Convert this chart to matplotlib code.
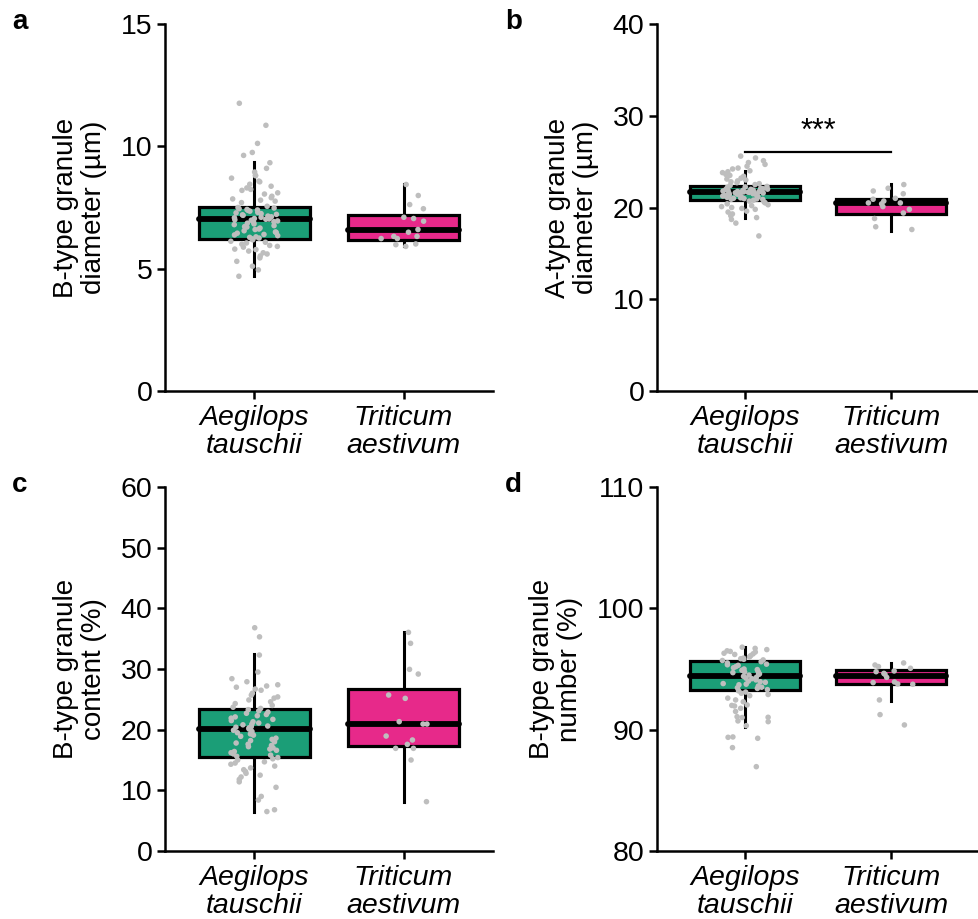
import numpy as np
import matplotlib.pyplot as plt

plt.rcParams['font.family'] = ['Liberation Sans', 'DejaVu Sans']

groups = ['Aegilops\ntauschii', 'Triticum\naestivum']
colors = ['#1B9E77', '#E7298A']

# panel a: B-type granule diameter (um)
a_aeg = [11.76, 10.86, 10.12, 9.75, 9.63, 9.33, 9.1, 8.95, 8.81, 8.8, 8.7, 8.58, 8.55,
         8.45, 8.37, 8.3, 8.24, 8.2, 8.1, 8.05, 7.96, 7.9, 7.85, 7.8, 7.76, 7.7,
         7.55, 7.5, 7.48, 7.45, 7.42, 7.4, 7.38, 7.35, 7.3, 7.28, 7.25, 7.22, 7.2,
         7.18, 7.15, 7.12, 7.1, 7.08, 7.05, 7.03, 7.02, 7.0,
         6.98, 6.95, 6.92, 6.9, 6.86, 6.83, 6.8, 6.76, 6.72, 6.7, 6.66, 6.62, 6.6,
         6.55, 6.5, 6.48, 6.45, 6.4, 6.38, 6.35, 6.3, 6.28, 6.25, 6.22,
         6.18, 6.12, 6.08, 6.05, 6.0, 5.95, 5.91, 5.88, 5.8, 5.78, 5.72, 5.65, 5.6,
         5.52, 5.44, 5.3, 5.1, 4.95, 4.69]
a_tri = [8.44, 7.99, 7.62, 7.45, 7.10, 7.05, 6.94, 6.6, 6.49, 6.32, 6.32, 6.23, 6.23,
         6.01, 5.98, 5.91]
# box stats: whislo, q1, med, q3, whishi
a_box = [(4.71, 6.23, 7.01, 7.53, 9.36), (5.91, 6.19, 6.56, 7.21, 8.47)]

# panel b: A-type granule diameter (um)
b_aeg = [25.6, 25.4, 25.1, 24.9, 24.7, 24.5, 24.3, 24.2, 24.0, 23.9, 23.8, 23.6, 23.5,
         23.4, 23.2, 23.1, 23.0, 22.9, 22.8, 22.7, 22.6, 22.5, 22.4,
         22.3, 22.25, 22.2, 22.15, 22.1, 22.05, 22.0, 21.98, 21.95, 21.9, 21.88, 21.85,
         21.8, 21.78, 21.75, 21.72, 21.7, 21.68, 21.67, 21.66,
         21.65, 21.6, 21.58, 21.55, 21.5, 21.45, 21.42, 21.4, 21.35, 21.3, 21.28, 21.25,
         21.2, 21.15, 21.1, 21.05, 21.0, 20.97, 20.93, 20.9, 20.88,
         20.8, 20.7, 20.6, 20.5, 20.4, 20.3, 20.2, 20.1, 20.0, 19.9, 19.8, 19.6, 19.5,
         19.3, 19.1, 18.9, 18.7, 18.3, 16.9]
b_tri = [22.5, 22.1, 21.8, 21.5, 21.0, 20.9, 20.7, 20.5, 20.5, 20.4, 20.1, 19.8, 19.4,
         18.8, 17.9, 17.6]
b_box = [(18.87, 20.87, 21.67, 22.33, 23.97), (17.49, 19.31, 20.47, 20.95, 22.59)]

# panel c: B-type granule content (%)
c_aeg = [36.8, 35.3, 32.3, 29.5, 28.4, 27.9, 27.4, 27.2, 27.0, 26.7, 26.5, 26.0, 25.7,
         25.4, 25.2, 24.9, 24.6, 24.3, 24.0, 23.7, 23.5,
         23.3, 23.1, 22.9, 22.7, 22.5, 22.3, 22.1, 21.9, 21.7, 21.5, 21.3, 21.1, 20.9,
         20.8, 20.6, 20.5, 20.4, 20.3, 20.2, 20.1,
         19.9, 19.7, 19.5, 19.3, 19.1, 18.9, 18.6, 18.4, 18.2, 18.0, 17.8, 17.6, 17.4,
         17.2, 17.0, 16.8, 16.6, 16.4, 16.2, 16.0, 15.8, 15.6,
         15.4, 15.2, 15.0, 14.7, 14.5, 14.3, 14.0, 13.7, 13.4, 13.1, 12.8, 12.5, 12.2,
         11.8, 11.4, 10.5, 9.0, 8.4, 6.8, 6.5]
c_tri = [36.04, 34.23, 29.94, 29.17, 25.71, 25.16, 21.32, 20.93, 20.93, 18.95, 18.30,
         17.58, 16.92, 16.92, 15.0, 8.13]
c_box = [(6.37, 15.55, 20.11, 23.36, 32.42), (8.13, 17.36, 20.93, 26.65, 36.04)]

# panel d: B-type granule number (%)
d_aeg = [96.8, 96.7, 96.6, 96.5, 96.45, 96.4, 96.3, 96.25, 96.2, 96.1, 96.0, 95.9,
         95.85, 95.8, 95.75, 95.7,
         95.6, 95.5, 95.4, 95.35, 95.3, 95.2, 95.1, 95.0, 94.95, 94.9, 94.8, 94.75,
         94.7, 94.6, 94.55, 94.5,
         94.4, 94.3, 94.25, 94.2, 94.1, 94.0, 93.95, 93.9, 93.8, 93.75, 93.7, 93.6,
         93.5, 93.45, 93.4, 93.3,
         93.2, 93.1, 93.0, 92.9, 92.8, 92.6, 92.45, 92.3, 92.04, 92.0, 91.95, 91.76,
         91.5, 91.07, 91.02, 91.0, 90.72, 90.66, 90.33, 89.4, 89.37, 89.29, 88.52, 86.95]
d_tri = [95.2, 95.5, 95.33, 95.06, 94.78, 94.64, 94.84, 94.56, 94.31, 93.93, 93.88,
         93.77, 93.74, 92.45, 91.24, 90.39]
d_box = [(90.25, 93.27, 94.45, 95.66, 96.79), (92.39, 93.74, 94.43, 94.9, 95.52)]

panels = [
    ('a', a_aeg, a_tri, a_box, 'B-type granule\ndiameter (µm)', (0, 15), [0, 5, 10, 15]),
    ('b', b_aeg, b_tri, b_box, 'A-type granule\ndiameter (µm)', (0, 40), [0, 10, 20, 30, 40]),
    ('c', c_aeg, c_tri, c_box, 'B-type granule\ncontent (%)', (0, 60), [0, 10, 20, 30, 40, 50, 60]),
    ('d', d_aeg, d_tri, d_box, 'B-type granule\nnumber (%)', (80, 110), [80, 90, 100, 110]),
]

W, H = 979, 919
rects = [(165, 24, 493, 391), (657, 24, 979, 391), (165, 487, 493, 851), (657, 487, 979, 851)]
letter_pos = [(12, 22), (505, 22), (12, 485), (505, 485)]

fig = plt.figure(figsize=(W / 100, H / 100), dpi=100)


def jitter(n, width=0.16, salt=0.0):
    # deterministic scatter of horizontal offsets (hash of the index)
    k = np.arange(n) + salt
    u = (np.sin(k * 12.9898 + 78.233) * 43758.5453) % 1.0
    return (u - 0.5) * 2 * width


for p, ((letter, aeg, tri, box, ylab, ylim, yticks), (x0, y0, x1, y1), (lx, ly)) in enumerate(zip(panels, rects, letter_pos)):
    ax = fig.add_axes([x0 / W, 1 - y1 / H, (x1 - x0) / W, (y1 - y0) / H])
    stats = []
    for b in box:
        stats.append(dict(whislo=b[0], q1=b[1], med=b[2], q3=b[3], whishi=b[4], fliers=[]))
    bp = ax.bxp(stats, positions=[1, 2], widths=0.75, showcaps=False, showfliers=False,
                patch_artist=True,
                boxprops=dict(linewidth=2.3, edgecolor='black'),
                whiskerprops=dict(linewidth=2.2, color='black'),
                medianprops=dict(linewidth=4.2, color='black', solid_capstyle='round'))
    for patch, c in zip(bp['boxes'], colors):
        patch.set_facecolor(c)

    for i, vals in enumerate([aeg, tri]):
        xs = i + 1 + jitter(len(vals), salt=p * 7.3 + i * 3.1)
        ax.scatter(xs, vals, s=16, color='#BEBEBE', edgecolors='none', zorder=5)

    if letter == 'b':
        ax.plot([1, 2], [26.0, 26.0], color='black', lw=1.6)
        ax.text(1.5, 26.6, '***', ha='center', va='bottom', fontsize=22)

    ax.set_xlim(0.4, 2.6)
    ax.set_ylim(*ylim)
    ax.set_yticks(yticks)
    ax.set_xticks([1, 2])
    ax.set_xticklabels(groups, fontstyle='italic', fontsize=20.5, linespacing=1.12)
    ax.tick_params(axis='y', labelsize=20.5, length=6, width=1.8, pad=3)
    ax.tick_params(axis='x', length=6, width=1.8, pad=4)
    ax.set_ylabel(ylab, fontsize=20, labelpad=10, linespacing=1.1)
    for s in ['top', 'right']:
        ax.spines[s].set_visible(False)
    for s in ['left', 'bottom']:
        ax.spines[s].set_linewidth(1.8)
    fig.text(lx / W, 1 - ly / H, letter, fontsize=20, fontweight='bold', ha='left', va='center')

fig.savefig('out.png', dpi=100)
